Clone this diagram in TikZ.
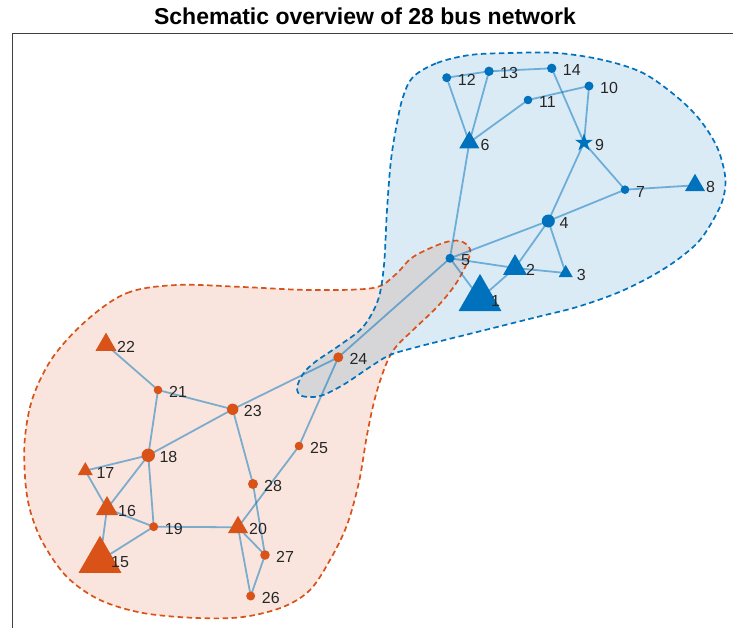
\documentclass[tikz,border=0pt]{standalone}
\usepackage{fontspec}
\setmainfont{Liberation Sans}
\usetikzlibrary{shapes.geometric}
\definecolor{mblue}{HTML}{0072BD}
\definecolor{morange}{HTML}{D95319}
\definecolor{labelc}{HTML}{262626}
\definecolor{axisc}{HTML}{404040}
\pgfdeclarelayer{regions}
\pgfdeclarelayer{edges}
\pgfsetlayers{regions,edges,main}
\tikzset{
  bdot/.style={circle, fill=mblue, inner sep=0pt, minimum size=#1},
  odot/.style={circle, fill=morange, inner sep=0pt, minimum size=#1},
  btri/.style={regular polygon, regular polygon sides=3, fill=mblue, inner sep=0pt, minimum size=#1},
  otri/.style={regular polygon, regular polygon sides=3, fill=morange, inner sep=0pt, minimum size=#1},
  bstar/.style={star, star points=5, star point ratio=2.618, fill=mblue, inner sep=0pt, minimum size=#1},
  edgeline/.style={draw=mblue, draw opacity=0.5, line width=1.8pt},
  lbl/.style={anchor=west, inner sep=0pt, text=labelc, font=\fontsize{16}{16}\selectfont},
  regborder/.style={line width=1.7pt, dash pattern=on 5.5pt off 3.5pt},
  axisline/.style={draw=axisc, line width=1.3pt},
}
\begin{document}
\begin{tikzpicture}[x=1pt, y=-1pt]
\useasboundingbox (0,0) rectangle (733,628);
% title
\node[font=\fontsize{23}{23}\selectfont\bfseries, text=black] (title) at (365,16) {Schematic overview of 28 bus network};
% axes
\draw[axisline] (12.5,628) -- (12.5,33.5) -- (733,33.5);

% regions
\begin{pgfonlayer}{regions}
\fill[morange, fill opacity=0.15] plot[smooth cycle, tension=0.55] coordinates {
 (87,320) (127,293) (177,285) (243,287) (310,290) (373,288) (395,275) (413,257)
 (443,243) (460,241) (470,249) (467,263) (455,285) (437,307) (413,330) (395,348)
 (385,367) (375,398) (367,435) (359,482) (347,525) (330,560) (310,590) (283,607)
 (243,617) (197,618) (143,613) (100,600) (67,577) (43,543) (30,510) (25,477)
 (25,437) (33,397) (53,357)};
\fill[mblue, fill opacity=0.14] plot[smooth cycle, tension=0.55] coordinates {
 (413,77) (437,63) (470,55) (510,53) (557,53) (603,60) (643,73) (677,97) (700,120)
 (717,147) (725,175) (724,195) (717,213) (700,240) (677,260) (650,277) (617,293)
 (577,307) (537,317) (497,327) (457,337) (417,347) (390,355) (370,367) (343,385)
 (320,396) (302,396) (297,388) (303,374) (315,362) (340,345) (363,327) (378,300)
 (384,265) (387,210) (391,160) (397,123) (403,97)};
\draw[morange, regborder] plot[smooth cycle, tension=0.55] coordinates {
 (87,320) (127,293) (177,285) (243,287) (310,290) (373,288) (395,275) (413,257)
 (443,243) (460,241) (470,249) (467,263) (455,285) (437,307) (413,330) (395,348)
 (385,367) (375,398) (367,435) (359,482) (347,525) (330,560) (310,590) (283,607)
 (243,617) (197,618) (143,613) (100,600) (67,577) (43,543) (30,510) (25,477)
 (25,437) (33,397) (53,357)};
\draw[mblue, regborder] plot[smooth cycle, tension=0.55] coordinates {
 (413,77) (437,63) (470,55) (510,53) (557,53) (603,60) (643,73) (677,97) (700,120)
 (717,147) (725,175) (724,195) (717,213) (700,240) (677,260) (650,277) (617,293)
 (577,307) (537,317) (497,327) (457,337) (417,347) (390,355) (370,367) (343,385)
 (320,396) (302,396) (297,388) (303,374) (315,362) (340,345) (363,327) (378,300)
 (384,265) (387,210) (391,160) (397,123) (403,97)};
\end{pgfonlayer}

% blue nodes
\node[btri=49.6] (n1) at (480,298.7) {};
\node[btri=27.7] (n2) at (515,268) {};
\node[btri=16.2] (n3) at (565.7,273) {};
\node[bdot=13] (n4) at (548.3,221) {};
\node[bdot=9] (n5) at (450,258.3) {};
\node[btri=23.1] (n6) at (469.3,142.5) {};
\node[bdot=8.6] (n7) at (625,189.7) {};
\node[btri=23.1] (n8) at (695,185.3) {};
\node[bstar=19] (n9) at (584,142.7) {};
\node[bdot=9] (n10) at (589,86) {};
\node[bdot=8.6] (n11) at (528,100) {};
\node[bdot=9] (n12) at (446.7,77.7) {};
\node[bdot=9.4] (n13) at (489,71.3) {};
\node[bdot=9.4] (n14) at (551.7,68.3) {};
% orange nodes
\node[otri=49.6] (n15) at (100,560.5) {};
\node[otri=25.4] (n16) at (107,508.7) {};
\node[otri=17.3] (n17) at (85.3,470.7) {};
\node[odot=13.4] (n18) at (148.3,455.3) {};
\node[odot=9] (n19) at (153.7,526.7) {};
\node[otri=23.1] (n20) at (238,527.3) {};
\node[odot=8.6] (n21) at (158,390) {};
\node[otri=24.2] (n22) at (106,344.7) {};
\node[odot=11.4] (n23) at (232.7,409.3) {};
\node[odot=10] (n24) at (338.3,357.3) {};
\node[odot=8.6] (n25) at (299,446) {};
\node[odot=9] (n26) at (250.7,596) {};
\node[odot=9.6] (n27) at (265,555) {};
\node[odot=10] (n28) at (253,484) {};

% labels
\foreach \i in {1,...,28} {
  \node[lbl] (l\i) at ([shift={(11,2)}]n\i.center) {\i};
}

% edges
\begin{pgfonlayer}{edges}
\foreach \a/\b in {12/13, 13/14, 12/6, 13/6, 6/11, 11/10, 14/9, 10/9, 9/4, 9/7,
  7/8, 7/4, 4/5, 4/2, 4/3, 5/2, 2/3, 5/1, 1/2, 5/6, 5/24,
  22/21, 21/23, 21/18, 23/18, 23/24, 23/28, 24/25, 25/20, 28/27,
  18/17, 18/16, 18/19, 17/16, 16/19, 16/15, 15/19, 19/20, 20/27, 20/26, 27/26} {
  \draw[edgeline] (n\a.center) -- (n\b.center);
}
\end{pgfonlayer}
\end{tikzpicture}
\end{document}
